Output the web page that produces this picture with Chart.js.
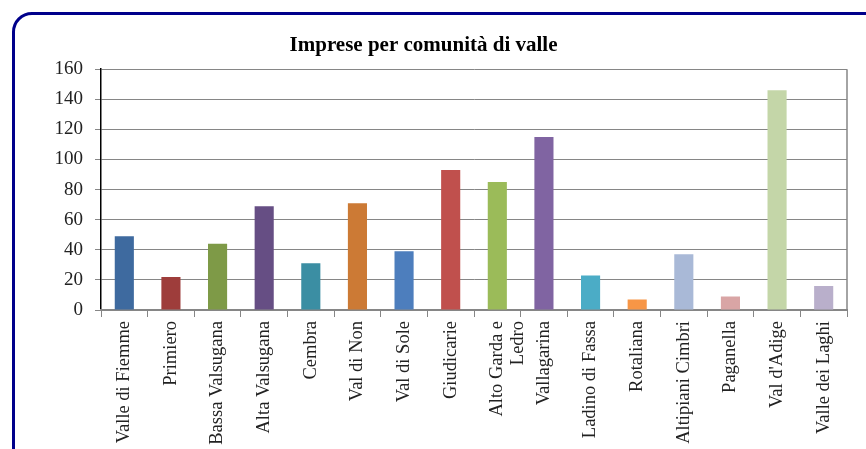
<!DOCTYPE html>
<html>
<head>
<meta charset="utf-8">
<script src="https://cdn.jsdelivr.net/npm/chart.js@4"></script>
<style>
  html, body { margin: 0; padding: 0; background: #ffffff; overflow: hidden; }
  #frame { position: absolute; left: 12px; top: 12px; width: 880px; height: 470px;
           border: 3px solid #00008b; border-radius: 20px; box-sizing: border-box; }
  #wrap { position: absolute; left: 0; top: 0; width: 866px; height: 449px; }
</style>
</head>
<body>
<div id="frame"></div>
<div id="wrap"><canvas id="c" width="866" height="449"></canvas></div>
<script>
const categories = ["Valle di Fiemme", "Primiero", "Bassa Valsugana", "Alta Valsugana", "Cembra",
  "Val di Non", "Val di Sole", "Giudicarie", ["Alto Garda e", "Ledro"], "Vallagarina",
  "Ladino di Fassa", "Rotaliana", "Altipiani Cimbri", "Paganella", "Val d'Adige", "Valle dei Laghi"];
const imprese = [49, 22, 44, 69, 31, 71, 39, 93, 85, 115, 23, 7, 37, 9, 146, 16];
const barColors = ["#3e6a9f", "#9e3d3b", "#7e9a47", "#664e84", "#3b8ea3", "#cc7a35", "#4d7ebd",
  "#c0504d", "#9bbb59", "#8064a2", "#4bacc6", "#f79646", "#a9b9d7", "#d9a5a5", "#c4d6a8", "#b9afcb"];
const yTicks = [0, 20, 40, 60, 80, 100, 120, 140, 160];
const titleText = "Imprese per comunità di valle";

const FONT = "'Liberation Serif', 'Times New Roman', serif";

const rightBorder = {
  id: 'rightBorder',
  afterDraw(chart) {
    const a = chart.chartArea, ctx = chart.ctx;
    ctx.save();
    ctx.strokeStyle = '#868686';
    ctx.lineWidth = 1.5;
    ctx.beginPath();
    ctx.moveTo(a.right, a.top);
    ctx.lineTo(a.right, a.bottom);
    ctx.stroke();
    ctx.restore();
  }
};

new Chart(document.getElementById('c'), {
  type: 'bar',
  data: {
    labels: categories,
    datasets: [{ data: imprese, backgroundColor: barColors, borderWidth: 0,
                 barPercentage: 0.41, categoryPercentage: 1.0 }]
  },
  options: {
    responsive: false,
    animation: false,
    devicePixelRatio: 1,
    layout: { padding: { left: 0, right: 19, top: 0, bottom: 0 } },
    plugins: {
      legend: { display: false },
      tooltip: { enabled: false },
      title: { display: true, text: titleText, color: '#000',
               font: { family: FONT, size: 21, weight: 'bold' },
               padding: { top: 33, bottom: 11 } }
    },
    scales: {
      y: {
        min: 0, max: 160,
        afterBuildTicks(scale) { scale.ticks = yTicks.map(v => ({ value: v })); },
        afterFit(scale) { scale.width = 101; },
        grid: { color: '#868686', lineWidth: 1, tickLength: 6, drawTicks: true },
        border: { color: '#000', width: 1.5 },
        ticks: { color: '#222', padding: 12, font: { family: FONT, size: 19 } }
      },
      x: {
        afterFit(scale) { scale.height = 139; },
        grid: { drawOnChartArea: false, drawTicks: true, tickLength: 7, color: '#868686', offset: true },
        border: { color: '#868686', width: 2 },
        ticks: { color: '#222', minRotation: 90, maxRotation: 90, padding: 4, autoSkip: false,
                 font: { family: FONT, size: 18.5, lineHeight: 1.15 } }
      }
    }
  },
  plugins: [rightBorder]
});
</script>
</body>
</html>
